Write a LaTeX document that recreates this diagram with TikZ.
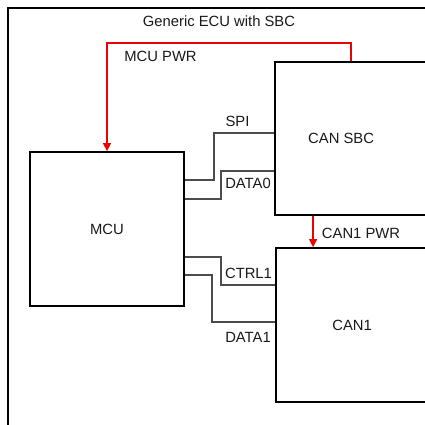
\documentclass[tikz,border=0pt]{standalone}
\usepackage{fontspec}
\setmainfont{Liberation Sans}
\usetikzlibrary{positioning,arrows.meta,calc}
\definecolor{pwrred}{RGB}{238,0,0}
\tikzset{
  blk/.style={draw=black,line width=1.8pt,inner sep=0pt},
  frm/.style={draw=black,line width=1.8pt,inner sep=0pt},
  sig/.style={line width=1.3pt,black!70},
  pwr/.style={line width=1.3pt,pwrred,-{Triangle[length=8pt,width=8pt]}},
  lbl/.style={font=\fontsize{14.8pt}{17pt}\selectfont,inner sep=1pt,text=black!90},
}
\begin{document}
\begin{tikzpicture}[x=1pt,y=-1pt]
  \useasboundingbox (0,0) rectangle (425,425);
  \clip (0,0) rectangle (425,425);
  % enclosure and blocks
  \node[frm,minimum width=432pt,minimum height=432pt] (ecu) at (224,224) {};
  \node[lbl] (title) at (219,21.5) {Generic ECU with SBC};
  \node[blk,minimum width=154pt,minimum height=154pt] (mcu) at (107,229) {};
  \node[blk,minimum width=170pt,minimum height=153pt] (sbc) at (360,138.5) {};
  \node[blk,minimum width=170pt,minimum height=154pt] (can1) at (361,325) {};
  \node[lbl] (mculbl) at (mcu.center) {MCU};
  \node[lbl] (sbclbl) at ([xshift=67pt]sbc.west) {CAN SBC};
  \node[lbl] (can1lbl) at ([xshift=77pt]can1.west) {CAN1};
  % power rails
  \draw[pwr] ([xshift=77pt]sbc.north west) -- ++(0,-18) -| (mcu.north);
  \node[lbl] (mcupwr) at (160.5,56) {MCU PWR};
  \draw[pwr] ([xshift=39pt]sbc.south west) -- ([xshift=38pt]can1.north west);
  \node[lbl] (canpwr) at (361,233) {CAN1 PWR};
  % signal lines
  \draw[sig] ([yshift=49pt]mcu.east) -- ++(29,0) |- ([yshift=5.5pt]sbc.west);
  \draw[sig] ([yshift=30pt]mcu.east) -- ++(36,0) |- ([yshift=-32.5pt]sbc.west);
  \draw[sig] ([yshift=-28pt]mcu.east) -- ++(36,0) |- ([yshift=40pt]can1.west);
  \draw[sig] ([yshift=-46pt]mcu.east) -- ++(27,0) |- ([yshift=3pt]can1.west);
  \node[lbl] (spi) at (237.5,121) {SPI};
  \node[lbl] (data0) at (248,183) {DATA0};
  \node[lbl] (ctrl1) at (248.5,273) {CTRL1};
  \node[lbl] (data1) at (248,337) {DATA1};
\end{tikzpicture}
\end{document}
